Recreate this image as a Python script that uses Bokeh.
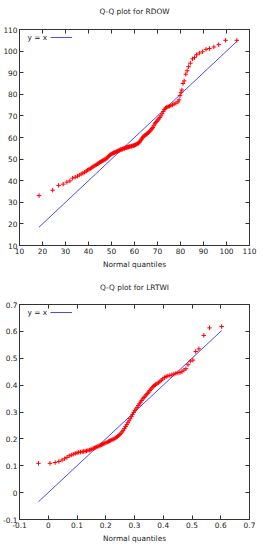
from bokeh.plotting import figure
from bokeh.layouts import column
from bokeh.models import (Range1d, FixedTicker, LinearAxis, Legend, LegendItem, Label,
                          CustomLabelingPolicy)
from bokeh.embed import file_html
from bokeh.resources import INLINE

FONT = "DejaVu Sans"
FS = "7.4px"
TXT = "#222222"

# ---------------- data: Q-Q plot for RDOW ----------------
rdow_title = "Q-Q plot for RDOW"
rdow_x = [18.5, 24.4, 27.0, 29.0, 30.6, 31.9, 33.1, 34.2, 35.2, 36.0, 36.8, 37.6, 38.3, 39.0,
          39.6, 40.2, 40.8, 41.4, 41.9, 42.4, 42.9, 43.4, 43.9, 44.3, 44.8, 45.2, 45.6, 46.0,
          46.4, 46.8, 47.2, 47.6, 48.0, 48.4, 48.8, 49.1, 49.5, 49.9, 50.2, 50.6, 50.9, 51.3,
          51.6, 52.0, 52.3, 52.7, 53.0, 53.4, 53.7, 54.0, 54.4, 54.7, 55.0, 55.4, 55.7, 56.0,
          56.4, 56.7, 57.0, 57.4, 57.7, 58.0, 58.4, 58.7, 59.0, 59.4, 59.7, 60.0, 60.4, 60.7,
          61.0, 61.4, 61.7, 62.1, 62.4, 62.8, 63.1, 63.5, 63.8, 64.2, 64.5, 64.9, 65.3, 65.6,
          66.0, 66.4, 66.8, 67.2, 67.6, 68.0, 68.4, 68.8, 69.2, 69.7, 70.1, 70.6, 71.0, 71.5,
          72.0, 72.5, 73.0, 73.5, 74.0, 74.6, 75.2, 75.8, 76.5, 77.2, 78.0, 78.9, 79.4, 79.8,
          80.2, 80.6, 81.1, 81.6, 82.3, 82.9, 83.5, 84.3, 85.2, 86.1, 87.0, 88.2, 89.6, 91.1,
          92.6, 94.5, 96.6, 99.6, 104.5]
rdow_y = [33.1, 35.6, 37.8, 38.4, 39.3, 39.9, 41.2, 41.6, 42.1, 42.6, 43.1, 43.5, 43.9, 44.4,
          44.9, 45.3, 45.6, 46.0, 46.4, 46.8, 47.1, 47.4, 47.8, 48.0, 48.4, 48.7, 48.9, 49.2,
          49.4, 49.6, 49.9, 50.1, 50.5, 50.9, 51.3, 51.7, 52.0, 52.3, 52.5, 52.7, 52.9, 53.0,
          53.2, 53.4, 53.5, 53.7, 53.9, 54.0, 54.2, 54.4, 54.5, 54.6, 54.8, 54.9, 55.0, 55.2,
          55.3, 55.4, 55.5, 55.6, 55.7, 55.8, 55.9, 56.0, 56.1, 56.2, 56.3, 56.4, 56.6, 56.8,
          57.0, 57.2, 57.4, 57.8, 58.3, 58.8, 59.3, 59.9, 60.3, 60.7, 61.0, 61.3, 61.6, 61.9,
          62.2, 62.6, 63.1, 63.6, 64.1, 64.6, 65.4, 66.3, 66.9, 67.5, 68.1, 68.6, 69.3, 70.0,
          71.0, 72.0, 72.9, 73.6, 74.0, 74.3, 74.5, 74.8, 75.1, 75.5, 75.9, 76.5, 77.4, 79.4,
          80.9, 82.0, 85.0, 86.2, 89.3, 90.9, 92.8, 94.4, 96.4, 97.0, 98.3, 99.1, 99.7, 100.8,
          101.2, 101.9, 103.0, 105.0, 105.0]
rdow_ticks = [10, 20, 30, 40, 50, 60, 70, 80, 90, 100, 110]
rdow_tick_labels = ["10", "20", "30", "40", "50", "60", "70", "80", "90", "100", "110"]

# ---------------- data: Q-Q plot for LRTWI ----------------
lrtwi_title = "Q-Q plot for LRTWI"
lrtwi_x = [-0.034, 0.006, 0.024, 0.037, 0.048, 0.057, 0.065, 0.073, 0.080, 0.087, 0.094, 0.100,
           0.106, 0.112, 0.118, 0.123, 0.128, 0.133, 0.138, 0.143, 0.148, 0.152, 0.157, 0.161,
           0.165, 0.169, 0.173, 0.177, 0.181, 0.185, 0.189, 0.193, 0.197, 0.201, 0.205, 0.209,
           0.213, 0.217, 0.221, 0.225, 0.229, 0.233, 0.237, 0.241, 0.245, 0.249, 0.253, 0.257,
           0.261, 0.265, 0.269, 0.273, 0.277, 0.281, 0.285, 0.289, 0.293, 0.297, 0.301, 0.305,
           0.309, 0.313, 0.317, 0.321, 0.325, 0.329, 0.333, 0.337, 0.341, 0.345, 0.349, 0.353,
           0.357, 0.361, 0.365, 0.369, 0.373, 0.378, 0.383, 0.388, 0.393, 0.398, 0.404, 0.410,
           0.416, 0.423, 0.430, 0.437, 0.444, 0.451, 0.458, 0.465, 0.472, 0.479, 0.486, 0.494,
           0.503, 0.513, 0.524, 0.541, 0.561, 0.603]
lrtwi_y = [0.109, 0.109, 0.112, 0.116, 0.121, 0.126, 0.131, 0.137, 0.140, 0.143, 0.146, 0.148,
           0.150, 0.151, 0.152, 0.153, 0.154, 0.155, 0.157, 0.158, 0.160, 0.162, 0.164, 0.166,
           0.168, 0.170, 0.172, 0.174, 0.176, 0.178, 0.180, 0.182, 0.184, 0.186, 0.188, 0.190,
           0.192, 0.194, 0.196, 0.198, 0.200, 0.203, 0.206, 0.209, 0.212, 0.216, 0.221, 0.226,
           0.232, 0.239, 0.246, 0.253, 0.260, 0.267, 0.275, 0.283, 0.291, 0.298, 0.305, 0.311,
           0.317, 0.324, 0.330, 0.337, 0.343, 0.349, 0.354, 0.359, 0.364, 0.369, 0.374, 0.380,
           0.385, 0.390, 0.395, 0.399, 0.402, 0.405, 0.409, 0.413, 0.418, 0.423, 0.428, 0.432,
           0.434, 0.436, 0.438, 0.441, 0.444, 0.446, 0.447, 0.450, 0.456, 0.461, 0.476, 0.489,
           0.493, 0.525, 0.535, 0.585, 0.613, 0.618]
lrtwi_ticks = [-0.1, 0, 0.1, 0.2, 0.3, 0.4, 0.5, 0.6, 0.7]
lrtwi_tick_labels = ["-0.1", "0", "0.1", "0.2", "0.3", "0.4", "0.5", "0.6", "0.7"]

x_label = "Normal quantiles"
legend_label = "y = x"


def style_axis(ax, ticks, labels, show_labels):
    ax.ticker = FixedTicker(ticks=ticks)
    ax.major_label_overrides = {t: l for t, l in zip(ticks, labels)}
    ax.minor_tick_line_color = None
    ax.major_tick_in = 4
    ax.major_tick_out = 0
    ax.major_tick_line_color = "#333333"
    ax.major_tick_line_width = 1
    ax.axis_line_color = "#333333"
    ax.major_label_text_font = FONT
    ax.major_label_text_font_size = FS
    ax.major_label_text_color = TXT
    ax.axis_label_text_font = FONT
    ax.axis_label_text_font_size = FS
    ax.axis_label_text_font_style = "normal"
    ax.axis_label_text_color = TXT
    if show_labels:
        ax.major_label_standoff = 2
    else:
        ax.major_label_standoff = 0
        ax.major_label_policy = CustomLabelingPolicy(code="return []")


def make_plot(title, xs, ys, ticks, labels, frame_h, top_border, bottom_border, title_gap):
    lo, hi = ticks[0], ticks[-1]
    p = figure(frame_width=230, frame_height=frame_h, output_backend="svg",
               toolbar_location=None,
               x_range=Range1d(lo, hi), y_range=Range1d(lo, hi), title=title,
               min_border_left=15, min_border_right=8, min_border_top=top_border,
               min_border_bottom=bottom_border)
    p.background_fill_color = "white"
    p.border_fill_color = "white"
    p.outline_line_color = "#333333"
    p.grid.visible = False
    p.title.align = "center"
    p.title.text_font = FONT
    p.title.text_font_size = FS
    p.title.text_font_style = "normal"
    p.title.text_color = TXT
    p.title.standoff = title_gap

    p.add_layout(LinearAxis(), "above")
    p.add_layout(LinearAxis(), "right")
    style_axis(p.below[0], ticks, labels, True)
    style_axis(p.left[0], ticks, labels, True)
    style_axis(p.above[0], ticks, labels, False)
    style_axis(p.right[0], ticks, labels, False)
    p.below[0].axis_label = x_label
    p.below[0].axis_label_standoff = 3

    ln = p.line([min(xs), max(xs)], [min(xs), max(xs)], line_color="#4a4aff", line_width=1)
    p.scatter(xs, ys, marker="cross", size=4.5, line_color="#ff0000", line_width=1)

    legend_top = frame_h - 8
    p.add_layout(Label(x=8, y=legend_top, x_units="screen", y_units="screen", text=legend_label,
                       text_font=FONT, text_font_size=FS, text_color=TXT,
                       text_baseline="middle"))
    lg = Legend(items=[LegendItem(label=" ", renderers=[ln])], location=(31, legend_top - 6),
                glyph_width=22, glyph_height=12, label_standoff=0, padding=0, margin=0,
                border_line_color=None, background_fill_alpha=0,
                label_text_font_size=FS, label_width=1)
    p.add_layout(lg)
    return p


p1 = make_plot(rdow_title, rdow_x, rdow_y, rdow_ticks, rdow_tick_labels, 216, 19, 32, 9)
p2 = make_plot(lrtwi_title, lrtwi_x, lrtwi_y, lrtwi_ticks, lrtwi_tick_labels, 215, 18, 28, 7)

layout = column(p1, p2, spacing=0)
open("out.html", "w").write(file_html(layout, INLINE))
